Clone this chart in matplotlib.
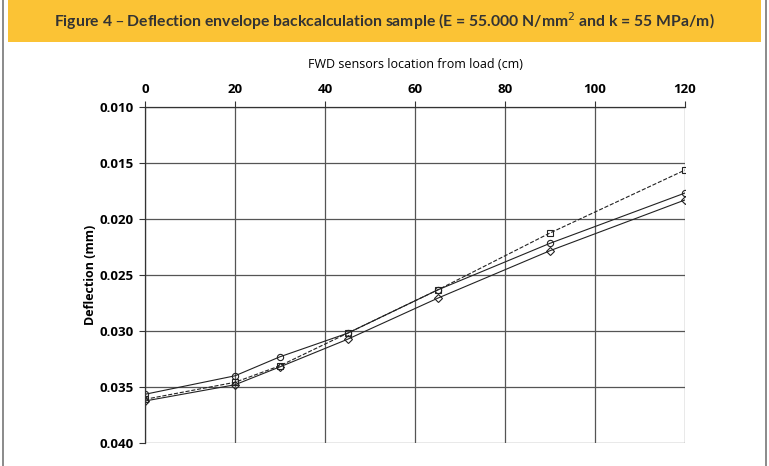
import numpy as np
import matplotlib.pyplot as plt
from matplotlib.patches import Rectangle
from matplotlib.lines import Line2D

# sensor positions (cm)
sensors = [0, 20, 30, 45, 65, 90, 120]
# deflections (mm)
circles = [0.03565, 0.0340, 0.0323, 0.0302, 0.02634, 0.02217, 0.01768]
squares = [0.0361, 0.03458, 0.0331, 0.0302, 0.02634, 0.02125, 0.01563]
diamonds = [0.03625, 0.0348, 0.0332, 0.03074, 0.02708, 0.02283, 0.0183]

xticks = [0, 20, 40, 60, 80, 100, 120]
yticks = [0.010, 0.015, 0.020, 0.025, 0.030, 0.035, 0.040]

plt.rcParams['font.family'] = ['Open Sans', 'DejaVu Sans']

fig = plt.figure(figsize=(7.69, 4.66), dpi=100)

# header band and outer frame
fig.patches.append(Rectangle((8/769, 1 - 42/466), 753/769, 42/466, transform=fig.transFigure,
                             facecolor='#fbc335', edgecolor='none', zorder=0))
fig.lines.append(Line2D([3/769, 3/769], [0, 1], transform=fig.transFigure, color='#777777', lw=1.2))
fig.lines.append(Line2D([766/769, 766/769], [0, 1], transform=fig.transFigure, color='#777777', lw=1.2))
fig.text(0.5, 1 - 21/466, 'Figure 4 – Deflection envelope backcalculation sample (E = 55.000 N/mm$^2$ and k = 55 MPa/m)',
         ha='center', va='center', fontsize=11.3, fontweight='bold', color='#333333', family='Lato')

ax = fig.add_axes([145/769, 1 - 443/466, 540/769, 336/466])
ax.plot(sensors, squares, ls='--', color='#222222', lw=0.8, marker='s', ms=4.5,
        mfc='none', mec='#222222', mew=0.8)
ax.plot(sensors, circles, ls='-', color='#222222', lw=0.8, marker='o', ms=4.5,
        mfc='none', mec='#222222', mew=0.8)
ax.plot(sensors, diamonds, ls='-', color='#222222', lw=0.8, marker='D', ms=3.8,
        mfc='none', mec='#222222', mew=0.8)

ax.set_xlim(0, 120)
ax.set_ylim(0.040, 0.010)
ax.set_xticks(xticks)
ax.set_yticks(yticks)
ax.set_yticklabels(['%.3f' % v for v in yticks])
ax.xaxis.tick_top()
ax.xaxis.set_label_position('top')
ax.tick_params(axis='both', length=4, width=0.8, color='#333333', labelsize=9.5, pad=4)
for lab in ax.get_xticklabels() + ax.get_yticklabels():
    lab.set_fontweight('bold')
ax.set_xlabel('FWD sensors location from load (cm)', fontsize=9, labelpad=11)
ax.set_ylabel('Deflection (mm)', fontsize=9, fontweight='bold', labelpad=2)
ax.grid(True, color='#555555', lw=0.9)
ax.set_axisbelow(True)
for s in ['right', 'bottom']:
    ax.spines[s].set_visible(False)
for s in ['left', 'top']:
    ax.spines[s].set_color('#333333')
    ax.spines[s].set_linewidth(0.9)

fig.savefig('out.png', dpi=100)
